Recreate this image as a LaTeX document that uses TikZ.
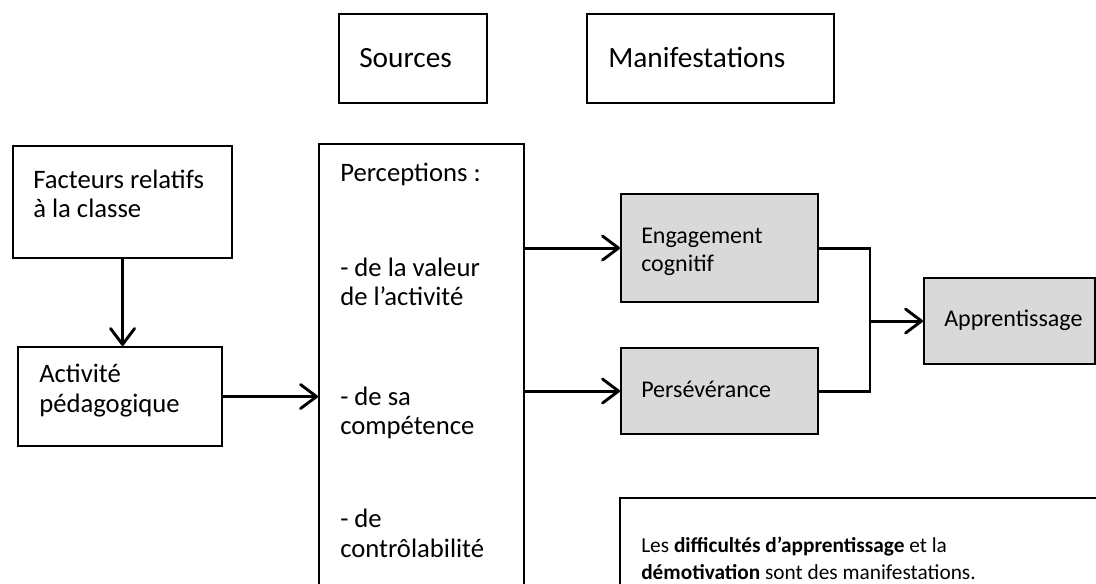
\documentclass[tikz,border=0pt]{standalone}
\usepackage{fontspec}
\setmainfont{Carlito}
\usetikzlibrary{arrows.meta, positioning}

\definecolor{boxgray}{RGB}{217,217,217}

\begin{document}
\begin{tikzpicture}[x=0.75pt, y=-0.75pt, >={Straight Barb[length=12pt, width=18pt, round]}]
				\tikzstyle{box} = [draw=black, line width=1.6pt, anchor=north west, inner sep=0pt]
				\tikzstyle{grey} = [box, fill=boxgray]
				\tikzstyle{big} = [anchor=base west, inner sep=0pt, align=left, font=\fontsize{22}{24}\selectfont]
				\tikzstyle{mid} = [anchor=base west, inner sep=0pt, align=left, font=\fontsize{20}{22}\selectfont]
				\tikzstyle{small} = [anchor=base west, inner sep=0pt, align=left, font=\fontsize{18}{21}\selectfont]
				\tikzstyle{line} = [line width=2.2pt]
				
				\useasboundingbox (0,0) rectangle (1096,584);
				\begin{scope}
				\clip (0,0) rectangle (1096,584);
				
				% boxes
				\node[box, minimum width=148*0.75pt, minimum height=89*0.75pt]	at (338, 13)	(src)	{};
				\node[box, minimum width=247*0.75pt, minimum height=89*0.75pt]	at (586, 13)	(man)	{};
				\node[box, minimum width=219*0.75pt, minimum height=112*0.75pt]	at (12, 145)	(fac)	{};
				\node[box, minimum width=204*0.75pt, minimum height=99*0.75pt]	at (17, 346)	(act)	{};
				\node[box, minimum width=205*0.75pt, minimum height=480*0.75pt]	at (318, 143)	(per)	{};
				\node[grey, minimum width=197*0.75pt, minimum height=108*0.75pt]	at (620, 193)	(eng)	{};
				\node[grey, minimum width=197*0.75pt, minimum height=86*0.75pt]	at (620, 347)	(pers)	{};
				\node[grey, minimum width=171*0.75pt, minimum height=86*0.75pt]	at (923, 277)	(app)	{};
				\node[box, minimum width=520*0.75pt, minimum height=200*0.75pt]	at (619, 497)	(note)	{};
				
				% texts (base = last line)
				\node[big]	at (359, 68)	(src-t)	{Sources};
				\node[big]	at (608, 68)	(man-t)	{Manifestations};
				\node[mid]	at (33, 218)	(fac-t)	{Facteurs relatifs\\à la classe};
				\node[mid]	at (39, 412)	(act-t)	{Activité\\pédagogique};
				\node[mid]	at (340, 182)	(per-t)	{Perceptions :};
				\node[mid]	at (340, 306)	(val-t)	{- de la valeur\\de l’activité};
				\node[mid]	at (340, 435)	(comp-t)	{- de sa\\compétence};
				\node[mid]	at (340, 557)	(ctrl-t)	{- de\\contrôlabilité};
				\node[small]	at (641, 272)	(eng-t)	{Engagement\\cognitif};
				\node[small]	at (641, 398)	(pers-t)	{Persévérance};
				\node[small]	at (944, 327)	(app-t)	{Apprentissage};
				\node[small, font=\fontsize{16}{20}\selectfont]	at (641, 579)	(note-t)	{Les \textbf{difficultés d’apprentissage} et la\\\textbf{démotivation} sont des manifestations.};
				\end{scope}
				
				\coordinate (junc) at (870,0 |- app.west);
				
				\draw[line, ->] (fac.south) -- (fac.south |- act.north);
				\draw[line, ->] (act.east) -- (act.east -| per.west);
				\draw[line, ->] (eng.west -| per.east) -- (eng.west);
				\draw[line, ->] (pers.west -| per.east) -- (pers.west);
				\draw[line] (eng.east) -| (junc) |- (pers.east);
				\draw[line, ->] (junc) -- (app.west);
				\end{tikzpicture}
\end{document}
